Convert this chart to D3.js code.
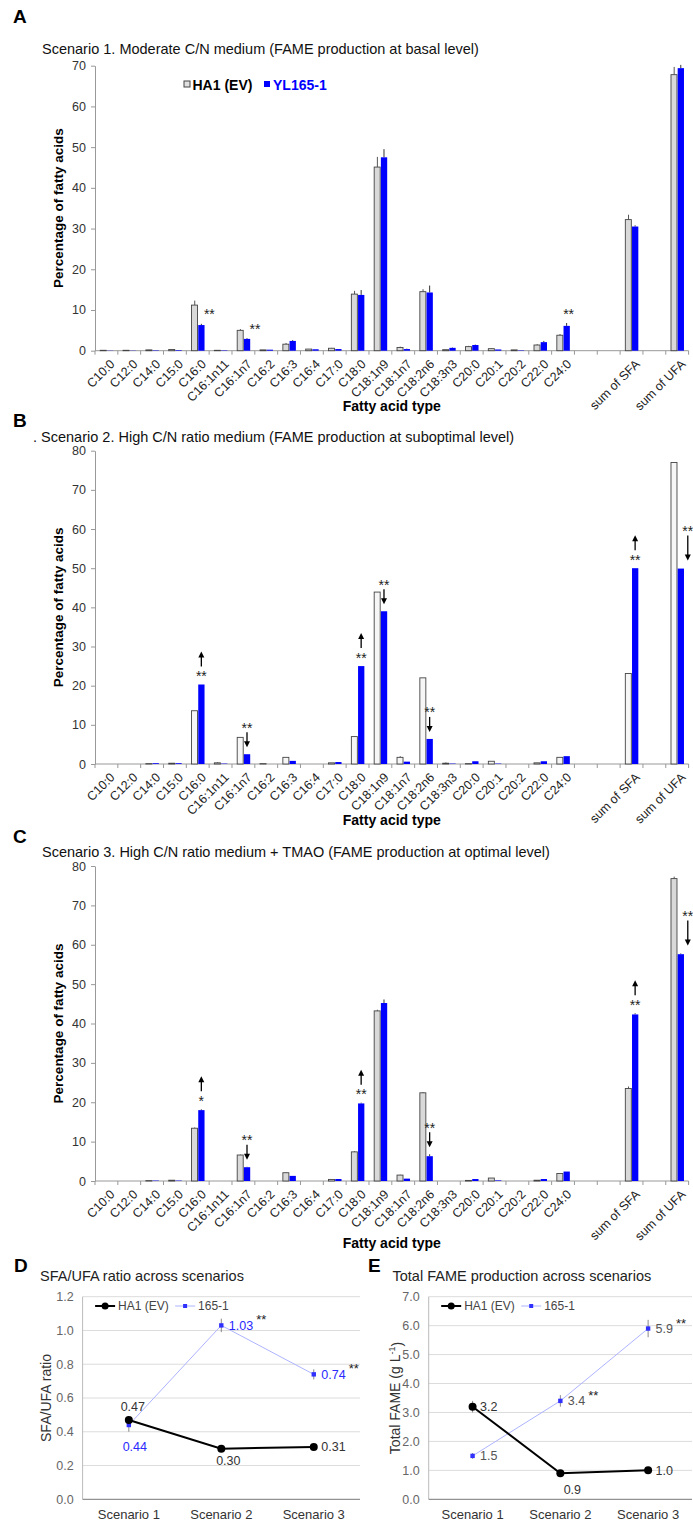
<!DOCTYPE html>
<html>
<head>
<meta charset="utf-8">
<script src="https://cdn.jsdelivr.net/npm/d3@7"></script>
<style>
  body { margin: 0; background: #fff; }
  svg { display: block; font-family: "Liberation Sans", Arial, sans-serif; }
</style>
</head>
<body>
<svg id="fig" width="693" height="1523"></svg>
<script>
// ---- categories ----
const fattyAcids = ["C10:0", "C12:0", "C14:0", "C15:0", "C16:0", "C16:1n11", "C16:1n7", "C16:2",
  "C16:3", "C16:4", "C17:0", "C18:0", "C18:1n9", "C18:1n7", "C18:2n6", "C18:3n3",
  "C20:0", "C20:1", "C20:2", "C22:0", "C24:0"];
const sums = ["sum of SFA", "sum of UFA"];
// order of slots on the x axis (gaps are empty slots)
const slots = [...fattyAcids, "gap1", "gap2", "sum of SFA", "gap3", "sum of UFA"];
const barKeys = [...fattyAcids, ...sums];

// ---- Scenario 1 (values follow barKeys) ----
const s1HA1 = [0.1, 0.1, 0.2, 0.3, 11.2, 0.1, 5.0, 0.2, 1.6, 0.4, 0.6, 13.9, 45.1, 0.8, 14.5, 0.25, 1.0, 0.5, 0.2, 1.4, 3.8, 32.2, 67.8];
const s1YL  = [0.05, 0.05, 0.1, 0.15, 6.3, 0.1, 2.9, 0.25, 2.4, 0.35, 0.4, 13.7, 47.5, 0.4, 14.3, 0.7, 1.4, 0.3, 0.1, 2.1, 6.1, 30.5, 69.4];
const s1HA1Err = [0, 0, 0.05, 0.05, 1.1, 0, 0.3, 0, 0.3, 0, 0.1, 0.8, 2.5, 0.2, 0.6, 0, 0.2, 0.1, 0, 0.2, 0.3, 1.2, 1.9];
const s1YLErr  = [0, 0, 0, 0, 0.3, 0, 0.2, 0, 0.2, 0, 0, 1.2, 2.0, 0.1, 1.7, 0.1, 0.1, 0, 0, 0.3, 0.7, 0.3, 0.8];
const s1Marks = [
  { key: "C16:0", text: "**", type: "side" },
  { key: "C16:1n7", text: "**", type: "side" },
  { key: "C24:0", text: "**", type: "above" }
];

// ---- Scenario 2 ----
const s2HA1 = [0, 0, 0.1, 0.2, 13.6, 0.3, 6.8, 0.1, 1.7, 0, 0.3, 7.0, 43.9, 1.7, 22.0, 0.2, 0.1, 0.7, 0, 0.3, 1.7, 23.1, 77.0];
const s2YL  = [0, 0, 0.2, 0.2, 20.3, 0.1, 2.5, 0, 0.8, 0, 0.5, 25.0, 39.0, 0.6, 6.4, 0.1, 0.7, 0.1, 0, 0.7, 2.0, 50.0, 49.9];
const s2HA1Err = [0, 0, 0, 0, 0, 0.2, 0, 0, 0, 0, 0, 0, 0, 0.3, 0, 0.2, 0, 0, 0, 0, 0, 0, 0];
const s2YLErr  = [0, 0, 0, 0, 0, 0, 0, 0, 0, 0, 0, 0, 0, 0, 0, 0, 0, 0, 0, 0, 0, 0, 0];
const s2Marks = [
  { key: "C16:0", text: "**", type: "up" },
  { key: "C16:1n7", text: "**", type: "down" },
  { key: "C18:0", text: "**", type: "up" },
  { key: "C18:1n9", text: "**", type: "down" },
  { key: "C18:2n6", text: "**", type: "down" },
  { key: "sum of SFA", text: "**", type: "up" },
  { key: "sum of UFA", text: "**", type: "sideDown" }
];

// ---- Scenario 3 ----
const s3HA1 = [0, 0, 0.1, 0.2, 13.4, 0, 6.6, 0, 2.1, 0, 0.4, 7.4, 43.2, 1.5, 22.4, 0, 0.15, 0.75, 0, 0.2, 1.9, 23.5, 76.8];
const s3YL  = [0, 0, 0.1, 0.1, 18.0, 0, 3.5, 0, 1.3, 0, 0.5, 19.7, 45.2, 0.6, 6.3, 0, 0.5, 0.15, 0, 0.5, 2.4, 42.3, 57.6];
const s3HA1Err = [0, 0, 0, 0, 0.2, 0, 0.1, 0, 0.1, 0, 0, 0.2, 0.3, 0.1, 0.2, 0, 0, 0, 0, 0, 0.1, 0.5, 0.5];
const s3YLErr  = [0, 0, 0, 0, 0.2, 0, 0.1, 0, 0, 0, 0, 0.2, 0.9, 0, 0.5, 0, 0, 0, 0, 0, 0, 0.3, 0.2];
const s3Marks = [
  { key: "C16:0", text: "*", type: "up" },
  { key: "C16:1n7", text: "**", type: "down" },
  { key: "C18:0", text: "**", type: "up" },
  { key: "C18:2n6", text: "**", type: "down" },
  { key: "sum of SFA", text: "**", type: "up" },
  { key: "sum of UFA", text: "**", type: "sideDown" }
];

// ---- D / E ----
const scenarios = ["Scenario 1", "Scenario 2", "Scenario 3"];
const ratioHA1 = [0.47, 0.30, 0.31];
const ratioHA1Err = [0.02, 0.01, 0.015];
const ratio165 = [0.44, 1.03, 0.74];
const ratio165Err = [0.04, 0.04, 0.03];
const ratioSig = ["", "**", "**"];
const fameHA1 = [3.2, 0.9, 1.0];
const fameHA1Err = [0.2, 0.03, 0.05];
const fame165 = [1.5, 3.4, 5.9];
const fame165Err = [0.1, 0.2, 0.3];
const fameSig = ["", "**", "**"];

const svg = d3.select("#fig");
const BLUE = "#0000ff";

/**
 * Draws an arrow from (x, from) to (x, to), head at "to"
 */
function arrow(g, x, from, to) {
  const dir = to < from ? 1 : -1;
  g.append("line")
    .attr("x1", x).attr("x2", x)
    .attr("y1", from).attr("y2", to + dir * 4)
    .attr("stroke", "#000").attr("stroke-width", 1.3);
  g.append("path")
    .attr("d", `M${x},${to} L${x - 3},${to + dir * 6} L${x + 3},${to + dir * 6} Z`)
    .attr("fill", "#000");
}

function stars(g, x, yc, text) {
  g.append("text")
    .attr("x", x).attr("y", yc + 7.5)
    .attr("text-anchor", "middle")
    .attr("font-size", 14)
    .attr("fill", "#222")
    .text(text);
}

/**
 * Bar panel (A, B, C)
 */
function drawBars(cfg) {
  const g = svg.append("g");
  const x = d3.scaleBand().domain(slots).range([95, 688.6]);
  const y = d3.scaleLinear().domain([0, cfg.max]).range([cfg.bottom, cfg.top]);
  const bw = x.bandwidth();
  const cx = k => x(k) + bw / 2;

  // letter + title
  g.append("text").attr("x", 13).attr("y", cfg.letterY)
    .attr("font-size", 19).attr("font-weight", "bold").text(cfg.letter);
  g.append("text").attr("x", cfg.titleX).attr("y", cfg.titleY)
    .attr("font-size", 14.5).attr("fill", "#111").text(cfg.title);

  // y axis
  const ya = g.append("g").attr("transform", "translate(95,0)")
    .call(d3.axisLeft(y).ticks(cfg.max / 10).tickSize(4).tickSizeOuter(0).tickPadding(5));
  ya.select(".domain").attr("stroke", "#999");
  ya.selectAll(".tick line").attr("stroke", "#999");
  ya.selectAll("text").attr("font-size", 12.5).attr("fill", "#333").attr("font-family", "Liberation Sans, Arial");

  g.append("text")
    .attr("transform", `translate(58,${(cfg.top + cfg.bottom) / 2}) rotate(-90)`)
    .attr("text-anchor", "middle").attr("dy", "0.35em")
    .attr("font-size", 13.5).attr("font-weight", "bold")
    .text("Percentage of fatty acids");

  // x axis line and boundary ticks
  g.append("line").attr("x1", 95).attr("x2", x.range()[1])
    .attr("y1", cfg.bottom).attr("y2", cfg.bottom).attr("stroke", "#999");
  const bounds = slots.map(s => x(s)).concat([x.range()[1]]);
  g.selectAll(".bt").data(bounds).join("line")
    .attr("x1", d => d).attr("x2", d => d)
    .attr("y1", cfg.bottom).attr("y2", cfg.bottom + 4).attr("stroke", "#999");

  // category labels
  g.selectAll(".cl").data(slots.filter(s => !s.startsWith("gap"))).join("text")
    .attr("transform", d => `translate(${cx(d) + 6},${cfg.bottom + 11}) rotate(-45)`)
    .attr("text-anchor", "end")
    .attr("dy", "0.35em")
    .attr("font-size", 12.5)
    .attr("fill", "#222")
    .text(d => d);

  g.append("text").attr("x", (95 + x.range()[1]) / 2).attr("y", cfg.axisTitleY + 5)
    .attr("text-anchor", "middle").attr("font-size", 14).attr("font-weight", "bold")
    .text("Fatty acid type");

  // bars
  const rows = barKeys.map((k, i) => ({
    key: k, ha1: cfg.ha1[i], yl: cfg.yl[i], ha1Err: cfg.ha1Err[i], ylErr: cfg.ylErr[i]
  }));

  // error bars (upper only)
  g.selectAll(".eg").data(rows.filter(d => d.ha1Err > 0)).join("line")
    .attr("x1", d => cx(d.key) - 3).attr("x2", d => cx(d.key) - 3)
    .attr("y1", d => y(d.ha1)).attr("y2", d => y(d.ha1 + d.ha1Err))
    .attr("stroke", "#555").attr("stroke-width", 1);
  g.selectAll(".eb").data(rows.filter(d => d.ylErr > 0)).join("line")
    .attr("x1", d => cx(d.key) + 3.6).attr("x2", d => cx(d.key) + 3.6)
    .attr("y1", d => y(d.yl)).attr("y2", d => y(d.yl + d.ylErr))
    .attr("stroke", "#333").attr("stroke-width", 1);

  g.selectAll(".bg").data(rows).join("rect")
    .attr("x", d => cx(d.key) - 6.2).attr("width", 6)
    .attr("y", d => y(d.ha1)).attr("height", d => cfg.bottom - y(d.ha1))
    .attr("fill", cfg.grayFill).attr("stroke", "#444").attr("stroke-width", 0.9);
  g.selectAll(".bb").data(rows).join("rect")
    .attr("x", d => cx(d.key) + 0.5).attr("width", 6.3)
    .attr("y", d => y(d.yl)).attr("height", d => cfg.bottom - y(d.yl))
    .attr("fill", BLUE);

  // significance marks
  cfg.marks.forEach(m => {
    const i = barKeys.indexOf(m.key);
    const bx = cx(m.key) + 3.6;
    const top = y(cfg.yl[i] + cfg.ylErr[i]);
    if (m.type === "side") {
      stars(g, bx + 8, top - 12, m.text);
    } else if (m.type === "above") {
      stars(g, bx + 2, top - 12, m.text);
    } else if (m.type === "up") {
      stars(g, bx, top - 11, m.text);
      arrow(g, bx, top - 18, top - 33);
    } else if (m.type === "down") {
      stars(g, bx, top - 29, m.text);
      arrow(g, bx, top - 22, top - 7);
    } else if (m.type === "sideDown") {
      stars(g, bx + 7, top - 40, m.text);
      arrow(g, bx + 7, top - 33, top - 8);
    }
  });

  if (cfg.legend) {
    g.append("rect").attr("x", 184).attr("y", 81).attr("width", 6).attr("height", 6)
      .attr("fill", "#e0e0e0").attr("stroke", "#444");
    g.append("text").attr("x", 192.5).attr("y", 89.5).attr("font-size", 14)
      .attr("font-weight", "bold").text("HA1 (EV)");
    g.append("rect").attr("x", 264).attr("y", 81).attr("width", 6).attr("height", 6).attr("fill", BLUE);
    g.append("text").attr("x", 273).attr("y", 89.5).attr("font-size", 14)
      .attr("font-weight", "bold").attr("fill", BLUE).text("YL165-1");
  }
}

drawBars({ letter: "A", letterY: 23, title: "Scenario 1. Moderate C/N medium (FAME production at basal level)",
  titleX: 42, titleY: 54, top: 65.7, bottom: 350.7, max: 70,
  ha1: s1HA1, yl: s1YL, ha1Err: s1HA1Err, ylErr: s1YLErr, marks: s1Marks,
  grayFill: "#d9d9d9", axisTitleY: 406, legend: true });

drawBars({ letter: "B", letterY: 427, title: ". Scenario 2. High C/N ratio medium (FAME production at suboptimal level)",
  titleX: 33, titleY: 442, top: 450.7, bottom: 764, max: 80,
  ha1: s2HA1, yl: s2YL, ha1Err: s2HA1Err, ylErr: s2YLErr, marks: s2Marks,
  grayFill: "#f6f6f6", axisTitleY: 820 });

drawBars({ letter: "C", letterY: 843, title: "Scenario 3. High C/N ratio medium + TMAO (FAME production at optimal level)",
  titleX: 42, titleY: 857, top: 866, bottom: 1181, max: 80,
  ha1: s3HA1, yl: s3YL, ha1Err: s3HA1Err, ylErr: s3YLErr, marks: s3Marks,
  grayFill: "#d9d9d9", axisTitleY: 1243 });

/**
 * Line panel (D, E)
 */
function drawLines(cfg) {
  const g = svg.append("g");
  const x = d3.scalePoint().domain(scenarios).range([cfg.x0, cfg.x1]).padding(0.5);
  const y = d3.scaleLinear().domain([0, cfg.max]).range([1499.3, 1296.7]);
  const ticks = d3.range(0, cfg.max + cfg.step / 2, cfg.step);

  g.append("text").attr("x", cfg.letterX).attr("y", 1272)
    .attr("font-size", 19).attr("font-weight", "bold").text(cfg.letter);
  g.append("text").attr("x", cfg.titleX).attr("y", 1281)
    .attr("font-size", 14.5).attr("fill", "#222").text(cfg.title);

  // grid
  g.selectAll(".gr").data(ticks.slice(1)).join("line")
    .attr("x1", cfg.x0).attr("x2", cfg.x1)
    .attr("y1", d => y(d)).attr("y2", d => y(d))
    .attr("stroke", "#dcdcdc");
  g.append("line").attr("x1", cfg.x0).attr("x2", cfg.x0).attr("y1", y(cfg.max)).attr("y2", y(0))
    .attr("stroke", "#bbb");
  g.append("line").attr("x1", cfg.x0).attr("x2", cfg.x1).attr("y1", y(0)).attr("y2", y(0))
    .attr("stroke", "#777");

  g.selectAll(".yt").data(ticks).join("text")
    .attr("x", cfg.x0 - 9).attr("y", d => y(d)).attr("dy", "0.35em")
    .attr("text-anchor", "end").attr("font-size", 12.5).attr("fill", "#666")
    .text(d3.format(".1f"));
  g.selectAll(".xt").data(scenarios).join("text")
    .attr("x", d => x(d)).attr("y", 1519)
    .attr("text-anchor", "middle").attr("font-size", 13).attr("fill", "#333")
    .text(d => d);

  const yt = g.append("text")
    .attr("transform", `translate(${cfg.yTitleX},${(1296.7 + 1499.3) / 2}) rotate(-90)`)
    .attr("text-anchor", "middle").attr("dy", "0.35em")
    .attr("font-size", 14).attr("fill", "#333");
  yt.text(cfg.yTitle);
  if (cfg.sup) {
    yt.append("tspan").attr("font-size", 9).attr("dy", "-0.5em").text(cfg.sup);
    yt.append("tspan").attr("font-size", 14).attr("dy", "0.5em").text(")");
  }

  const ha1 = scenarios.map((s, i) => ({ s, v: cfg.ha1[i], e: cfg.ha1Err[i] }));
  const b = scenarios.map((s, i) => ({ s, v: cfg.b[i], e: cfg.bErr[i], sig: cfg.sig[i] }));
  const line = d3.line().x(d => x(d.s)).y(d => y(d.v));

  // 165-1 series
  g.append("path").datum(b).attr("d", line).attr("fill", "none")
    .attr("stroke", "#aeb4ff").attr("stroke-width", 1);
  g.selectAll(".be").data(b).join("line")
    .attr("x1", d => x(d.s)).attr("x2", d => x(d.s))
    .attr("y1", d => y(d.v - d.e)).attr("y2", d => y(d.v + d.e))
    .attr("stroke", "#888");
  g.selectAll(".bm").data(b).join("rect")
    .attr("x", d => x(d.s) - 2.2).attr("y", d => y(d.v) - 2.2)
    .attr("width", 4.4).attr("height", 4.4).attr("fill", "#3030ff");

  // HA1 series
  g.append("path").datum(ha1).attr("d", line).attr("fill", "none")
    .attr("stroke", "#000").attr("stroke-width", 2);
  g.selectAll(".he").data(ha1).join("line")
    .attr("x1", d => x(d.s)).attr("x2", d => x(d.s))
    .attr("y1", d => y(d.v - d.e)).attr("y2", d => y(d.v + d.e))
    .attr("stroke", "#888");
  g.selectAll(".hm").data(ha1).join("circle")
    .attr("cx", d => x(d.s)).attr("cy", d => y(d.v)).attr("r", 4).attr("fill", "#000");

  // value labels
  const place = (d, pos, color) => {
    const px = x(d.s), py = y(d.v);
    const t = g.append("text").attr("font-size", 12.5).attr("fill", color).text(cfg.fmt(d.v));
    if (pos === "above") t.attr("x", px + 4).attr("y", py - 13).attr("dy", "0.35em").attr("text-anchor", "middle");
    else if (pos === "below") t.attr("x", px + cfg.belowDx).attr("y", py + cfg.belowDy).attr("dy", "0.35em").attr("text-anchor", "middle");
    else if (pos === "below2") t.attr("x", px + 6).attr("y", py + 22).attr("dy", "0.35em").attr("text-anchor", "middle");
    else t.attr("x", px + 7.5).attr("y", py).attr("dy", "0.35em");
    return t;
  };
  ha1.forEach((d, i) => place(d, cfg.ha1Pos[i], "#333"));
  b.forEach((d, i) => {
    const t = place(d, cfg.bPos[i], cfg.bColor);
    if (d.sig) {
      const bb = t.node().getBBox();
      g.append("text").attr("x", bb.x + bb.width + 3).attr("y", y(d.v) - 8 + 7)
        .attr("font-size", 13).attr("fill", "#222").text(d.sig);
    }
  });

  // legend
  const lx = cfg.x0 + 12.5, ly = 1306;
  g.append("line").attr("x1", lx).attr("x2", lx + 20).attr("y1", ly).attr("y2", ly)
    .attr("stroke", "#000").attr("stroke-width", 2);
  g.append("circle").attr("cx", lx + 10).attr("cy", ly).attr("r", 3.5);
  g.append("text").attr("x", lx + 23).attr("y", ly).attr("dy", "0.35em")
    .attr("font-size", 12).attr("fill", "#444").text("HA1 (EV)");
  g.append("line").attr("x1", lx + 80).attr("x2", lx + 100).attr("y1", ly).attr("y2", ly)
    .attr("stroke", "#aeb4ff");
  g.append("rect").attr("x", lx + 88).attr("y", ly - 2).attr("width", 4).attr("height", 4).attr("fill", "#3030ff");
  g.append("text").attr("x", lx + 103).attr("y", ly).attr("dy", "0.35em")
    .attr("font-size", 12).attr("fill", "#444").text("165-1");
}

drawLines({ letter: "D", letterX: 14, titleX: 40, title: "SFA/UFA ratio across scenarios",
  x0: 82.6, x1: 360, max: 1.2, step: 0.2, yTitleX: 46, yTitle: "SFA/UFA ratio",
  ha1: ratioHA1, ha1Err: ratioHA1Err, b: ratio165, bErr: ratio165Err, sig: ratioSig,
  fmt: d3.format(".2f"), ha1Pos: ["above", "below", "right"], bPos: ["below2", "right", "right"],
  belowDx: 7, belowDy: 12, bColor: "#2a2aff" });

drawLines({ letter: "E", letterX: 368, titleX: 392.5, title: "Total FAME production across scenarios",
  x0: 428.7, x1: 692, max: 7, step: 1, yTitleX: 395, yTitle: "Total FAME (g L", sup: "-1",
  ha1: fameHA1, ha1Err: fameHA1Err, b: fame165, bErr: fame165Err, sig: fameSig,
  fmt: d3.format(".1f"), ha1Pos: ["right", "below", "right"], bPos: ["right", "right", "right"],
  belowDx: 12, belowDy: 16, bColor: "#555" });
</script>
</body>
</html>
